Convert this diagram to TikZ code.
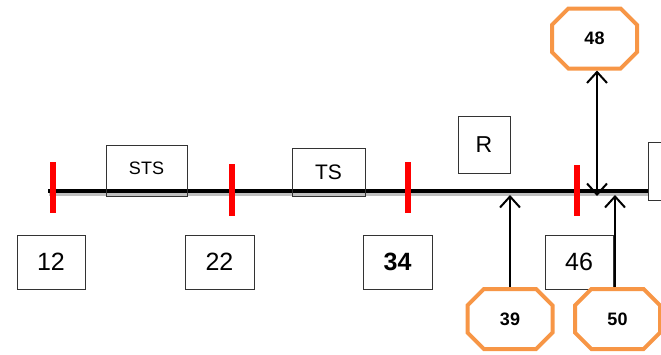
\documentclass[tikz,border=0pt]{standalone}
\usepackage{fontspec}
\setmainfont{Liberation Sans}
\usetikzlibrary{shapes.misc,arrows.meta}
\definecolor{octorange}{HTML}{F79646}
\begin{document}
\begin{tikzpicture}[x=1pt,y=-1pt,
  box/.style={draw=black!80, line width=0.8pt, inner sep=0pt, font=\fontsize{25}{30}\selectfont},
  oct/.style={chamfered rectangle, draw=octorange, line width=4pt, fill=white,
    chamfered rectangle xsep=14pt, chamfered rectangle ysep=15pt, inner sep=0pt,
    minimum width=85pt, minimum height=60pt, font=\fontsize{18}{20}\selectfont\bfseries},
  tick/.style={draw=red, line width=6pt},
  barb/.tip={Straight Barb[length=11pt,width=20pt,line width=2pt]},
  arr/.style={line width=2pt, -barb},
  darr/.style={line width=2pt, barb-barb}]
\clip (0,0) rectangle (661,354);
% time line
\coordinate (start) at (48,191);
\node[box, minimum width=40pt, minimum height=58pt, anchor=north west] (rbox) at (648,142) {};
\draw[black!25, line width=3pt] (49,194) -- (648,194);
\draw[line width=4pt] (start) -- (rbox.west |- start);
% red ticks
\draw[tick] (53,162) -- (53,213);
\draw[tick] (232,164) -- (232,216);
\draw[tick] (408,162) -- (408,213);
\draw[tick] (577,165) -- (577,216);
% boxes on the line
\node[box, minimum width=81pt, minimum height=51pt, font=\fontsize{18}{20}\selectfont] (sts) at (146.5,170.5) {\raisebox{4pt}{STS}};
\node[box, minimum width=73pt, minimum height=48pt, font=\fontsize{21}{24}\selectfont] (ts) at (328.5,172) {TS};
\node[box, minimum width=52pt, minimum height=57pt, font=\fontsize{23}{26}\selectfont] (r) at (484,144.5) {R};
% values below
\node[box, minimum width=68pt, minimum height=54pt] (n12) at (51,262) {12};
\node[box, minimum width=69pt, minimum height=54pt] (n22) at (219.5,262) {22};
\node[box, minimum width=69pt, minimum height=54pt] (n34) at (397.5,262) {\bfseries 34};
\node[box, minimum width=68pt, minimum height=54pt] (n46) at (579,262) {46};
% octagons
\node[oct] (oct48) at (594.5,38.5) {48};
\node[oct] (oct39) at (510,319) {39};
\node[oct] (oct50) at (617.5,319) {50};
% arrows
\coordinate (p39) at (510,195);
\coordinate (p50) at (615,195);
\coordinate (p48) at (597,196);
\draw[arr] (oct39.north) -- (p39);
\draw[arr] (oct50.north -| p50) -- (p50);
\draw[darr] (oct48.south -| p48) -- (p48);
\end{tikzpicture}
\end{document}
